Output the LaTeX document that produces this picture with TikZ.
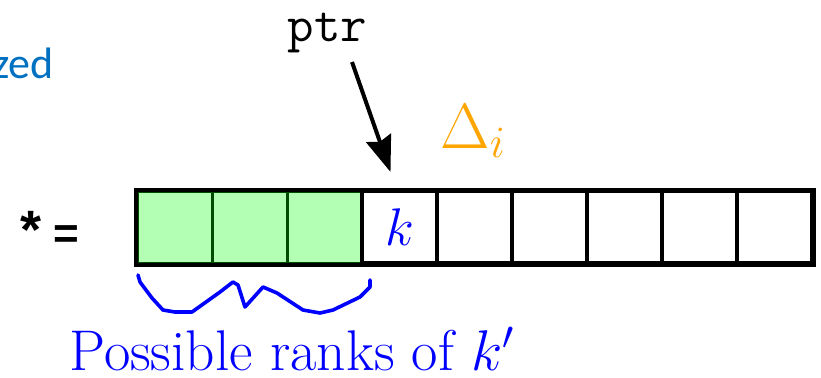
\RequirePackage{fix-cm}
\documentclass[tikz,border=0pt]{standalone}
\usepackage{fontspec}
\newfontfamily\slidefont{Carlito}
\newfontfamily\starfont{Liberation Sans}
\usetikzlibrary{arrows.meta}
\definecolor{rkgreen}{HTML}{B3FFB3}
\definecolor{rkdarkgreen}{HTML}{004D00}
\definecolor{rkblue}{HTML}{0070C0}
\definecolor{rkorange}{HTML}{FFA500}
\tikzset{
    rk cell/.style={minimum width=37.5pt, minimum height=36pt, inner sep=0pt,
                    draw=black, line width=2pt},
    rk seen/.style={rk cell, fill=rkgreen, draw=rkdarkgreen, line width=1.5pt},
    rk key/.style={text=blue, font=\fontsize{26.5}{28}\selectfont},
    rk label/.style={inner sep=0pt},
    rk ptr/.style={-{Stealth[length=18pt, width=13pt, inset=2pt]},
                   line width=2pt},
    rk brace/.style={blue, line width=1.8pt, line join=round, line cap=round},
}

\begin{document}
\begin{tikzpicture}[x=0.5pt, y=-0.5pt]
    \useasboundingbox (0,0) rectangle (821,377);
    % Array cells (the first three are already seen)
    \node[rk seen] (c1) at (174.5,227) {};
    \node[rk seen] (c2) at (249.5,227) {};
    \node[rk seen] (c3) at (324.5,227) {};
    \node[rk cell, rk key] (c4) at (399.5,227) {$k$};
    \node[rk cell] (c5) at (474.5,227) {};
    \node[rk cell] (c6) at (549.5,227) {};
    \node[rk cell] (c7) at (624.5,227) {};
    \node[rk cell] (c8) at (699.5,227) {};
    \node[rk cell] (c9) at (774.5,227) {};
    \draw[line width=2pt] (c1.north west) rectangle (c9.south east);
    % Labels
    \node[rk label, anchor=base east, text=rkblue,
          font=\slidefont\fontsize{22}{24}\selectfont] (zed) at (54,78) {zed};
    \node[rk label, anchor=base west,
          font=\starfont\bfseries\fontsize{22}{24}\selectfont] (star) at (20,248)
        {{\fontsize{27}{28}\selectfont *} =};
    \node[rk label, anchor=base, font=\ttfamily\fontsize{25.7}{28}\selectfont]
        (ptr) at (327.5,41) {ptr};
    \node[rk label, anchor=base west, text=rkorange,
          font=\fontsize{32}{34}\selectfont] (delta) at (440,148) {$\Delta_i$};
    \node[rk label, anchor=base west, text=blue,
          font=\fontsize{28.7}{31}\selectfont] (ranks) at (69,370)
        {Possible ranks of $k'$};
    % Pointer into the array
    \coordinate (ptr tail) at (352,62);
    \coordinate (ptr tip) at ([xshift=-4.5pt, yshift=8.5pt]c4.north);
    \draw[rk ptr] (ptr tail) -- (ptr tip);
    % Hand-drawn brace under the seen cells
    \draw[rk brace] (138,275) -- (140,282) -- (152,298) -- (163,310)
        -- (175,312) -- (192,312) -- (220,292) -- (233,282) -- (238,285)
        -- (245,307) -- (263,287) -- (277,293) -- (303,310) -- (320,313)
        -- (333,310) -- (360,297) -- (370,287) -- (370,280);
\end{tikzpicture}
\end{document}
